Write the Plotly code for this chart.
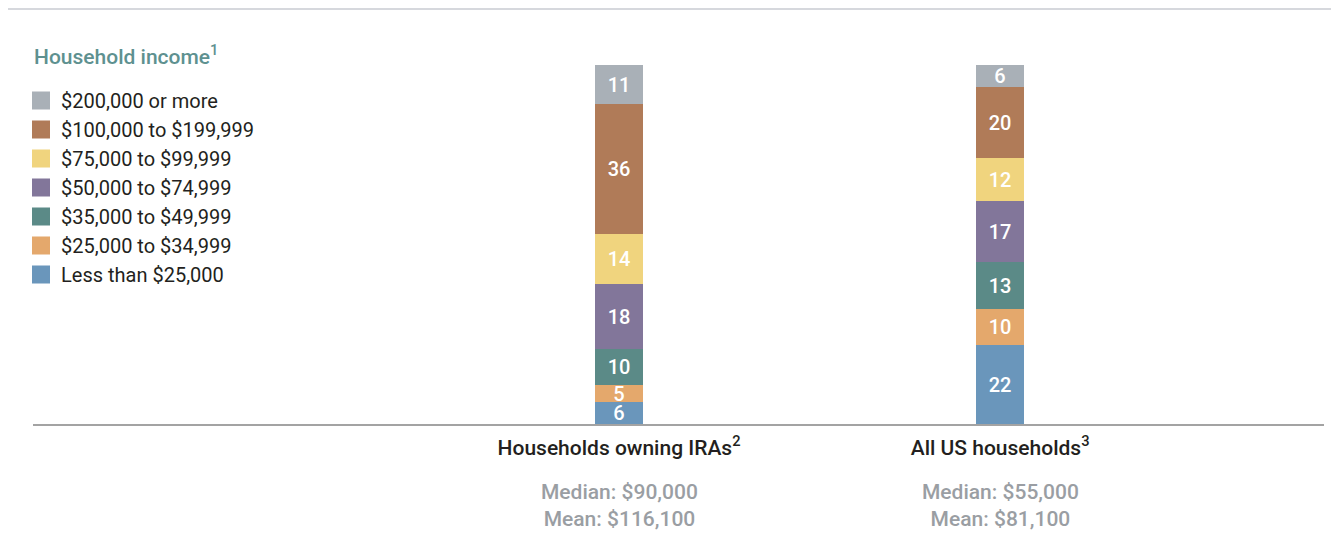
import plotly.graph_objects as go

categories = ["Households owning IRAs<sup>2</sup>", "All US households<sup>3</sup>"]
income_bands = ["Less than $25,000", "$25,000 to $34,999", "$35,000 to $49,999",
                "$50,000 to $74,999", "$75,000 to $99,999", "$100,000 to $199,999",
                "$200,000 or more"]
ira_values = [6, 5, 10, 18, 14, 36, 11]
us_values = [22, 10, 13, 17, 12, 20, 6]
colors = ["#6a96bb", "#e4a86c", "#5b8a87", "#82769a", "#f0d47e", "#b07b58", "#a9b0b7"]
stats_text = ["Median: $90,000<br>Mean: $116,100", "Median: $55,000<br>Mean: $81,100"]
legend_title = "Household income<sup>1</sup>"

FONT = "Roboto"

# page offset (default body margin of the html page)
OFF = 8
W, H = 1339 - OFF, 550 - OFF
L, R, T, B = 25, 15, 57, 126
pw, ph = W - L - R, H - T - B


def px_x(p):
    return (p - OFF - L) / pw


def px_y(p):
    return (H - B - (p - OFF)) / ph


fig = go.Figure()
n = len(income_bands)
for i, band in enumerate(income_bands):
    vals = [ira_values[i], us_values[i]]
    fig.add_trace(go.Bar(
        x=[0, 1], y=vals, name=band, showlegend=False,
        marker=dict(color=colors[i], line=dict(width=0)),
        text=[str(v) for v in vals], textposition="inside",
        insidetextanchor="middle", textangle=0,
        textfont=dict(color="white", size=20, family=FONT, weight=500),
        width=0.126, hoverinfo="skip",
    ))
    # legend key (square swatch)
    fig.add_trace(go.Scatter(
        x=[None], y=[None], mode="markers", name=band, legendgroup=band,
        legendrank=n - i,
        marker=dict(symbol="square", size=20, color=colors[i],
                    line=dict(width=2, color=colors[i])),
        hoverinfo="skip",
    ))

for i, s in enumerate(stats_text):
    fig.add_annotation(x=i, xref="x", y=px_y(505), yref="paper", yanchor="middle",
                       text=s, showarrow=False, align="center",
                       font=dict(family=FONT, size=21, color="#9a9ea3", weight=500))

fig.add_annotation(x=px_x(32), xref="paper", xanchor="left",
                   y=px_y(55), yref="paper", yanchor="middle",
                   text=legend_title, showarrow=False, align="left",
                   font=dict(family=FONT, size=21, color="#5e9190", weight=500))

fig.add_shape(type="rect", xref="paper", yref="paper",
              x0=px_x(OFF), x1=px_x(1345), y0=px_y(560), y1=px_y(10),
              fillcolor="white", line=dict(width=0), layer="below")

fig.update_layout(
    width=W, height=H,
    margin=dict(l=L, r=R, t=T, b=B, pad=0),
    paper_bgcolor="#d6d8dd", plot_bgcolor="rgba(0,0,0,0)",
    barmode="stack", bargap=0,
    showlegend=True,
    legend=dict(
        x=px_x(21), xanchor="left", y=px_y(81), yanchor="top",
        traceorder="grouped", tracegroupgap=0, maxheight=500,
        itemsizing="trace",
        font=dict(family=FONT, size=20, color="#231f20"),
        bgcolor="rgba(0,0,0,0)",
    ),
    xaxis=dict(range=[-1.538, 1.850], tickmode="array", tickvals=[0, 1],
               ticktext=categories, showgrid=False, zeroline=False,
               showline=True, linecolor="#a3a3a3", linewidth=2,
               ticks="", ticklabelstandoff=4,
               tickfont=dict(family=FONT, size=21, color="#231f20", weight=500)),
    yaxis=dict(range=[0, 100], visible=False, showgrid=False, zeroline=False),
    uniformtext=dict(minsize=20, mode="show"),
    font=dict(family=FONT),
)

fig.write_html("out.html")
